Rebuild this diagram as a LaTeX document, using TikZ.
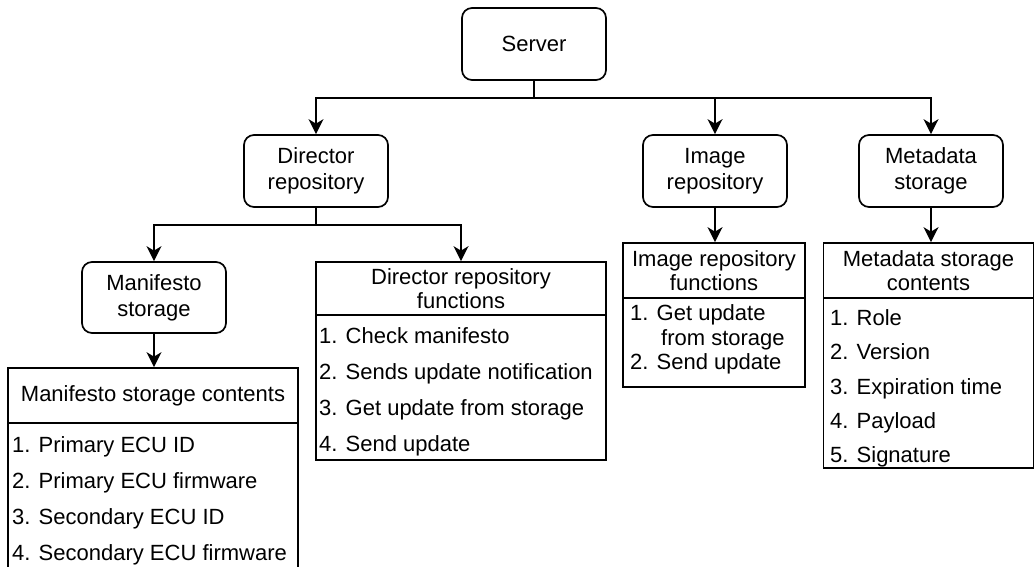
\documentclass[tikz,border=0pt]{standalone}
\usepackage{fontspec}
\setmainfont{Liberation Sans}
\usetikzlibrary{arrows.meta}
\tikzset{
  lw/.style={line width=1.7pt},
  rbox/.style={lw, draw, rounded corners=10pt, minimum width=144pt, minimum height=72pt,
    align=center, inner sep=0pt, font=\fontsize{22}{26}\selectfont},
  hdr/.style={lw, draw, inner sep=0pt, align=center, font=\fontsize{22}{24.5}\selectfont},
  body/.style={lw, draw, inner sep=0pt},
  item/.style={anchor=base west, inner sep=0pt, font=\fontsize{22}{25}\selectfont},
  arr/.style={lw, -{Stealth[length=15pt,width=15pt,inset=4.5pt]}},
}
\begin{document}
\begin{tikzpicture}[x=1pt,y=-1pt]
\useasboundingbox (0,0) rectangle (1036,567);

% rounded boxes
\node[rbox] (server)   at (534,44)     {Server};
\node[rbox] (director) at (316,171)    {Director\\repository};
\node[rbox] (image)    at (715,171)    {Image\\repository};
\node[rbox] (meta)     at (931,171)    {Metadata\\storage};
\node[rbox, minimum width=144pt, minimum height=71pt] (manst) at (154,297.5) {Manifesto\\storage};

% Manifesto storage contents
\node[hdr, minimum width=290pt, minimum height=55pt] (msch) at (153,395.5) {Manifesto storage contents};
\node[body, minimum width=290pt, minimum height=200pt] (mscb) at (153,523) {};
\node[item] (msc1) at (12,452) {1. Primary ECU ID};
\node[item] (msc2) at (12,488) {2. Primary ECU firmware};
\node[item] (msc3) at (12,524) {3. Secondary ECU ID};
\node[item] (msc4) at (12,560) {4. Secondary ECU firmware};

% Director repository functions
\node[hdr, minimum width=290pt, minimum height=53pt] (drfh) at (461,288.5) {Director repository\\functions};
\node[body, minimum width=290pt, minimum height=145pt] (drfb) at (461,387.5) {};
\node[item] (drf1) at (319,343) {1. Check manifesto};
\node[item] (drf2) at (319,379) {2. Sends update notification};
\node[item] (drf3) at (319,415) {3. Get update from storage};
\node[item] (drf4) at (319,451) {4. Send update};

% Image repository functions
\node[hdr, minimum width=182pt, minimum height=55pt] (irfh) at (714,270.5) {Image repository\\functions};
\node[body, minimum width=182pt, minimum height=89pt] (irfb) at (714,342.5) {};
\node[item] (irf1) at (630,320.5) {1. Get update};
\node[item] (irf1b) at (661,345) {from storage};
\node[item] (irf2) at (630,369.5) {2. Send update};

% Metadata storage contents
\node[hdr, minimum width=210pt, minimum height=55pt] (mdch) at (928.5,270.5) {Metadata storage\\contents};
\node[body, minimum width=210pt, minimum height=170pt] (mdcb) at (928.5,383) {};
\node[item] (mdc1) at (830,325) {1. Role};
\node[item] (mdc2) at (830,359.5) {2. Version};
\node[item] (mdc3) at (830,394) {3. Expiration time};
\node[item] (mdc4) at (830,428.5) {4. Payload};
\node[item] (mdc5) at (830,462) {5. Signature};

% connectors
\coordinate (sj) at (534,98);
\draw[lw] (server.south) -- (sj);
\draw[arr] (sj) -| (director.north);
\draw[arr] (sj) -| (image.north);
\draw[arr] (sj) -| (meta.north);

\coordinate (dj) at (316,225);
\draw[lw] (director.south) -- (dj);
\draw[arr] (dj) -| (manst.north);
\draw[arr] (dj) -| (drfh.north);

\draw[arr] (manst.south) -- (manst.south |- msch.north);
\draw[arr] (image.south) -- (image.south |- irfh.north);
\draw[arr] (meta.south) -- (meta.south |- mdch.north);
\end{tikzpicture}
\end{document}
